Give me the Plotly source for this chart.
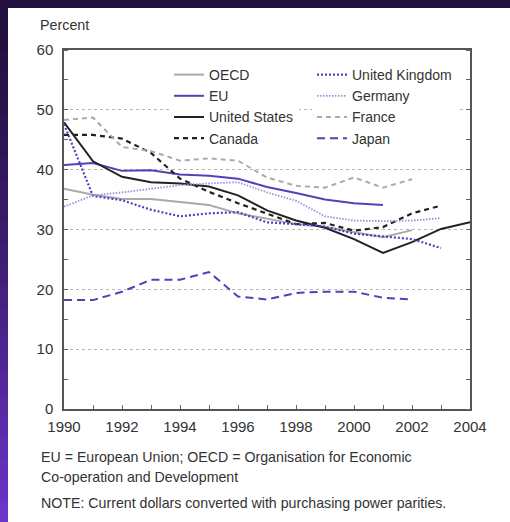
import plotly.graph_objects as go

years = list(range(1990, 2005))

oecd = [36.8, 35.8, 35.1, 35.1, 34.6, 34.1, 32.7, 31.8, 30.9, 30.4, 29.6, 28.7, 29.9]
eu = [40.8, 41.1, 39.8, 39.9, 39.2, 39.0, 38.5, 37.1, 36.1, 35.0, 34.4, 34.1]
us = [47.9, 41.4, 38.8, 37.9, 37.7, 37.2, 35.7, 33.2, 31.5, 30.3, 28.4, 26.1, 27.9, 30.1, 31.2]
canada = [45.8, 45.8, 45.2, 42.8, 38.5, 36.3, 34.4, 32.6, 30.9, 31.1, 29.8, 30.4, 32.7, 34.0]
uk = [47.6, 35.6, 34.9, 33.3, 32.2, 32.7, 32.9, 31.2, 30.9, 30.5, 29.3, 28.9, 28.4, 26.9]
germany = [33.8, 35.7, 36.2, 36.8, 37.4, 37.7, 37.9, 36.2, 34.8, 32.2, 31.5, 31.4, 31.5, 31.9]
france = [48.3, 48.7, 43.8, 43.1, 41.5, 41.9, 41.5, 38.7, 37.3, 37.0, 38.7, 37.0, 38.4]
japan = [18.2, 18.2, 19.6, 21.6, 21.6, 22.9, 18.8, 18.3, 19.4, 19.6, 19.6, 18.6, 18.3]

x_ticks = [1990, 1992, 1994, 1996, 1998, 2000, 2002, 2004]
y_ticks = [0, 10, 20, 30, 40, 50, 60]

notes = [
    "EU = European Union; OECD = Organisation for Economic",
    "Co-operation and Development",
    "NOTE: Current dollars converted with purchasing power parities.",
]

FONT = "Arial, 'Liberation Sans', sans-serif"
PURPLE = "#5a3db8"
TXT = "#333333"

series = [
    ("OECD", oecd, dict(color="#aaaaaa", width=2, dash="solid"), "legend"),
    ("EU", eu, dict(color=PURPLE, width=2, dash="solid"), "legend"),
    ("United States", us, dict(color="#222222", width=2, dash="solid"), "legend"),
    ("Canada", canada, dict(color="#222222", width=2.2, dash="5px,4px"), "legend"),
    ("United Kingdom", uk, dict(color="#5040c4", width=2.2, dash="2px,2px"), "legend2"),
    ("Germany", germany, dict(color="#9a8fdc", width=1.8, dash="1.5px,1.5px"), "legend2"),
    ("France", france, dict(color="#aaaaaa", width=2, dash="5px,4px"), "legend2"),
    ("Japan", japan, dict(color=PURPLE, width=2, dash="8px,5px"), "legend2"),
]

fig = go.Figure()
for name, vals, line, lg in series:
    fig.add_trace(go.Scatter(
        x=years[:len(vals)], y=vals, mode="lines", name=name,
        line=line, legend=lg, showlegend=True,
    ))

W, H = 510, 522
L, R, T, B = 64, 40, 50, 113
pw, ph = W - L - R, H - T - B

def px(xp):
    return (xp - L) / pw

def py(yp):
    return (H - B - yp) / ph

shapes = []
shapes.append(dict(type="rect", xref="paper", yref="paper", layer="below",
                   x0=px(8), x1=px(W + 5), y0=py(H + 5), y1=py(8),
                   fillcolor="white", line=dict(width=0)))
n = 24
top_c = (0x22, 0x10, 0x3e)
bot_c = (0x6b, 0x35, 0xc8)
for i in range(n):
    t = i / (n - 1)
    t2 = t ** 1.3
    c = tuple(int(top_c[k] + (bot_c[k] - top_c[k]) * t2) for k in range(3))
    y0p = 8 + (H - 8) * i / n
    y1p = 8 + (H - 8) * (i + 1) / n + 1
    shapes.append(dict(type="rect", xref="paper", yref="paper", layer="below",
                       x0=px(-5), x1=px(8), y0=py(y1p), y1=py(y0p),
                       fillcolor="rgb(%d,%d,%d)" % c, line=dict(width=0)))

legend_font = dict(family=FONT, size=14, color=TXT)

annotations = [
    dict(text="Percent", xref="paper", yref="paper", x=px(38), y=py(25),
         xanchor="left", yanchor="middle", showarrow=False,
         font=dict(family=FONT, size=14.3, color=TXT)),
]
for txt, yc in zip(notes, [457, 477, 503]):
    annotations.append(dict(text=txt, xref="paper", yref="paper", x=px(39), y=py(yc),
                            xanchor="left", yanchor="middle", align="left", showarrow=False,
                            font=dict(family=FONT, size=14.2, color=TXT)))

fig.update_layout(
    width=W, height=H,
    margin=dict(l=L, r=R, t=T, b=B),
    paper_bgcolor="#22103e",
    plot_bgcolor="white",
    font=dict(family=FONT, size=14, color=TXT),
    shapes=shapes,
    legend=dict(x=px(169), y=py(59), xanchor="left", yanchor="top",
                bgcolor="white", borderwidth=0, font=legend_font,
                tracegroupgap=0, itemwidth=30, traceorder="normal"),
    legend2=dict(x=px(312), y=py(59), xanchor="left", yanchor="top",
                 bgcolor="white", borderwidth=0, font=legend_font,
                 tracegroupgap=0, itemwidth=30, traceorder="normal"),
    xaxis=dict(
        range=[1990, 2004], tickvals=x_ticks, ticktext=[str(v) for v in x_ticks],
        ticks="inside", ticklen=4, tickcolor="#666666", tickwidth=1,
        minor=dict(dtick=1, tick0=1990, ticks="inside", ticklen=4, tickcolor="#666666", showgrid=False),
        showline=True, linecolor="#555555", linewidth=1.5, mirror=True,
        showgrid=False, zeroline=False, ticklabelstandoff=3,
        tickfont=dict(family=FONT, size=15, color=TXT),
    ),
    yaxis=dict(
        range=[0, 60], tickvals=y_ticks, ticktext=[str(v) for v in y_ticks],
        ticks="", showline=True, linecolor="#555555", linewidth=1.5, mirror="allticks",
        minor=dict(dtick=5, tick0=5, ticks="inside", ticklen=4, tickcolor="#666666", showgrid=False),
        showgrid=True, gridcolor="#b8b8b8", griddash="dot", gridwidth=1,
        zeroline=False, ticklabelstandoff=6,
        tickfont=dict(family=FONT, size=15, color=TXT),
    ),
    annotations=annotations,
)

fig.write_html("out.html", config={"displayModeBar": False},
               post_script="document.body.style.margin='0';document.body.style.overflow='hidden';")
